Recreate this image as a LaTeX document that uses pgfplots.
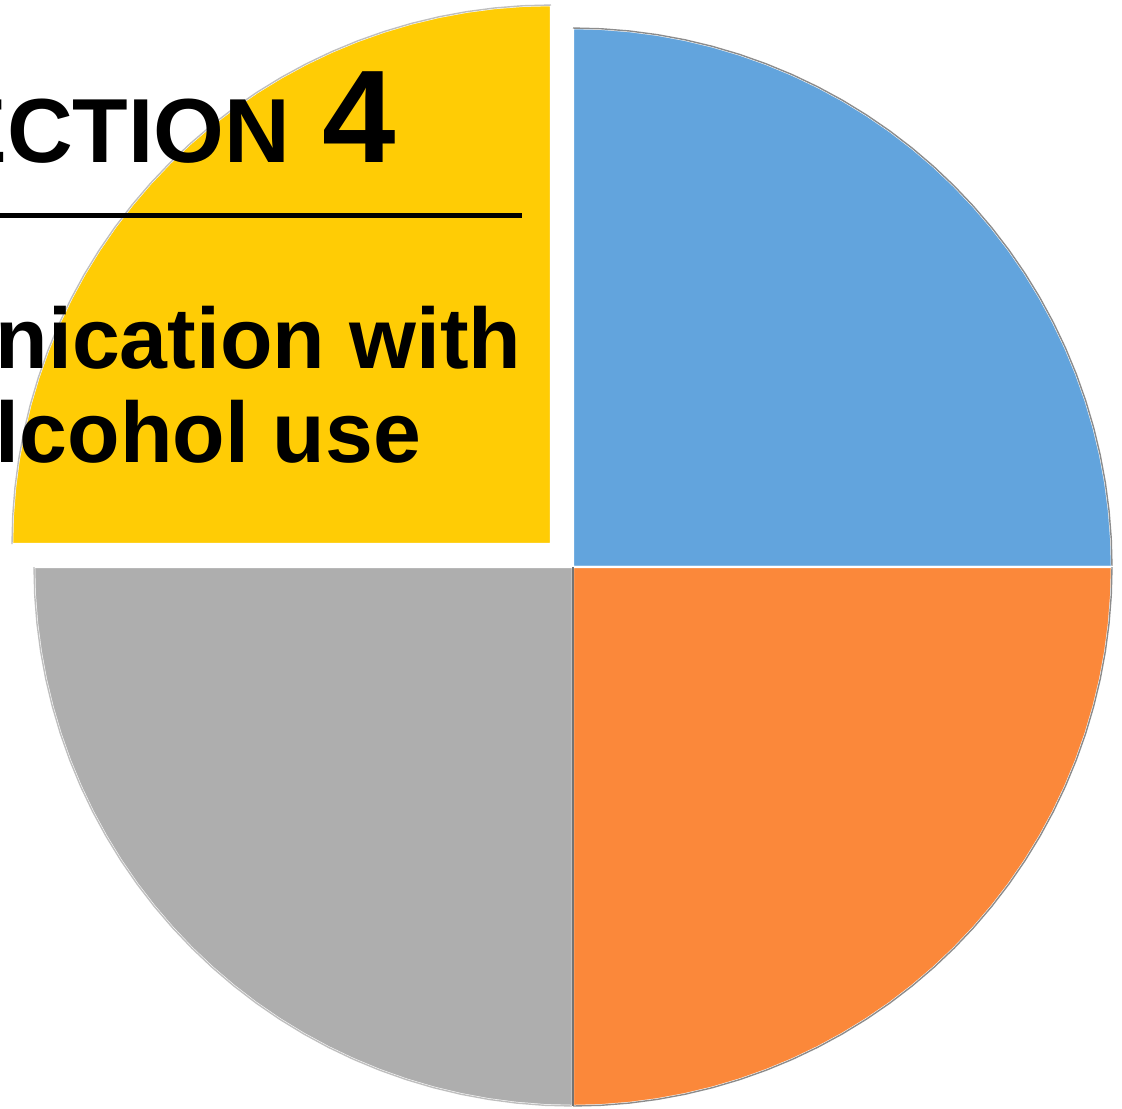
\documentclass[border=0pt]{standalone}
\usepackage{pgfplots}
\usepackage{pgfplotstable}
\pgfplotsset{compat=1.18}
\usepgfplotslibrary{polar}
\usepackage{fontspec}
\setmainfont{Liberation Sans}

\definecolor{cblue}{HTML}{62A4DD}
\definecolor{corange}{HTML}{FB883A}
\definecolor{cgray}{HTML}{AEAEAE}
\definecolor{cyellow}{HTML}{FFCC05}

% four equal slices (25% each): pole, then the arc every 3 degrees
\pgfplotstableread{
a r
0 0
0 1
3 1
6 1
9 1
12 1
15 1
18 1
21 1
24 1
27 1
30 1
33 1
36 1
39 1
42 1
45 1
48 1
51 1
54 1
57 1
60 1
63 1
66 1
69 1
72 1
75 1
78 1
81 1
84 1
87 1
90 1
}\sliceblue
\pgfplotstableread{
a r
0 0
90 1
93 1
96 1
99 1
102 1
105 1
108 1
111 1
114 1
117 1
120 1
123 1
126 1
129 1
132 1
135 1
138 1
141 1
144 1
147 1
150 1
153 1
156 1
159 1
162 1
165 1
168 1
171 1
174 1
177 1
180 1
}\sliceyellow
\pgfplotstableread{
a r
0 0
180 1
183 1
186 1
189 1
192 1
195 1
198 1
201 1
204 1
207 1
210 1
213 1
216 1
219 1
222 1
225 1
228 1
231 1
234 1
237 1
240 1
243 1
246 1
249 1
252 1
255 1
258 1
261 1
264 1
267 1
270 1
}\slicegray
\pgfplotstableread{
a r
0 0
270 1
273 1
276 1
279 1
282 1
285 1
288 1
291 1
294 1
297 1
300 1
303 1
306 1
309 1
312 1
315 1
318 1
321 1
324 1
327 1
330 1
333 1
336 1
339 1
342 1
345 1
348 1
351 1
354 1
357 1
360 1
}\sliceorange

\begin{document}
\begin{tikzpicture}
% picture is 1122 x 1108 px at 0.25pt per px
\path[use as bounding box] (0,0) rectangle (280.5pt,277pt);
\clip (0,0) rectangle (280.5pt,277pt);

\begin{polaraxis}[
    hide axis,
    scale only axis,
    width=269.5pt, height=269.5pt,
    xmin=0, xmax=360, ymin=0, ymax=1,
    at={(143.25pt,135.25pt)}, anchor=center,
    clip=false,
    slice/.style={draw=white, line width=0.6pt, line join=miter},
    rim/.style={draw=#1, line width=0.35pt, skip coords between index={0}{1}},
]
\addplot[slice, fill=cblue] table[x=a, y=r] {\sliceblue} -- cycle;
\addplot[rim=black!45] table[x=a, y=r] {\sliceblue};
\addplot[slice, fill=cgray] table[x=a, y=r] {\slicegray} -- cycle;
\addplot[rim=black!25] table[x=a, y=r] {\slicegray};
\addplot[slice, fill=corange] table[x=a, y=r] {\sliceorange} -- cycle;
\addplot[rim=black!45] table[x=a, y=r] {\sliceorange};
% dark seam between the gray and orange slices
\addplot[draw=black!55, line width=0.3pt] coordinates {(0,0) (270,1)};
% exploded slice
\addplot[slice, fill=cyellow, xshift=-5.5pt, yshift=5.75pt] table[x=a, y=r] {\sliceyellow} -- cycle;
\addplot[rim=black!25, xshift=-5.5pt, yshift=5.75pt] table[x=a, y=r] {\sliceyellow};
\end{polaraxis}

\node[anchor=base east, inner sep=0pt, font=\fontsize{22.75pt}{26pt}\selectfont\bfseries]
  at (72.75pt,236.5pt) {SECTION};
\node[anchor=base west, inner sep=0pt, font=\fontsize{33pt}{36pt}\selectfont\bfseries]
  at (80.5pt,236.5pt) {4};
\draw[line width=1.25pt] (0,223.25pt) -- (130.5pt,223.25pt);
\node[anchor=base east, inner sep=0pt, font=\fontsize{21.5pt}{24pt}\selectfont\bfseries]
  at (130.5pt,185pt) {Communication with};
\node[anchor=base east, inner sep=0pt, font=\fontsize{21.5pt}{24pt}\selectfont\bfseries]
  at (105.5pt,161.5pt) {Alcohol use};
\end{tikzpicture}
\end{document}
